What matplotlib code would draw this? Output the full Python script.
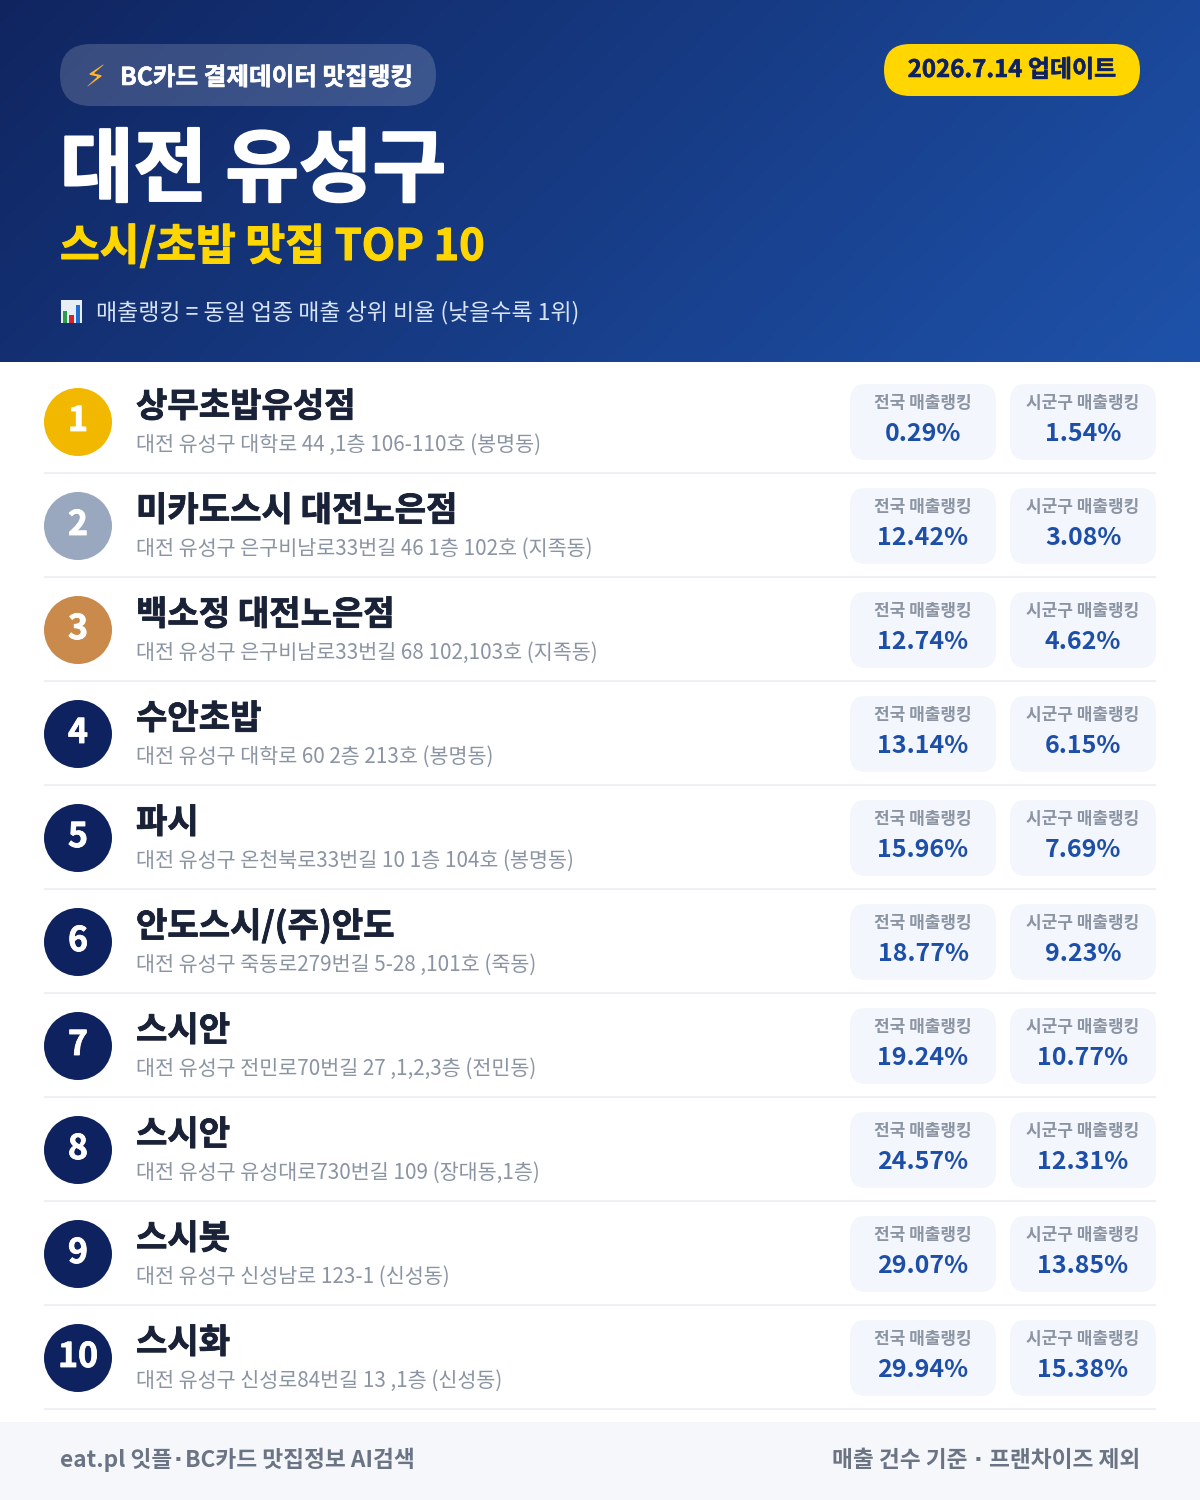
import numpy as np
import matplotlib
matplotlib.use('Agg')
import matplotlib.pyplot as plt
import matplotlib.patheffects as pe
from matplotlib.patches import FancyBboxPatch, Circle, Rectangle

plt.rcParams['font.family'] = ['Noto Sans CJK KR', 'DejaVu Sans']

# data
names = ['상무초밥유성점', '미카도스시 대전노은점', '백소정 대전노은점', '수안초밥', '파시',
         '안도스시/(주)안도', '스시안', '스시안', '스시봇', '스시화']
addrs = ['대전 유성구 대학로 44 ,1층 106-110호 (봉명동)',
         '대전 유성구 은구비남로33번길 46 1층 102호 (지족동)',
         '대전 유성구 은구비남로33번길 68 102,103호 (지족동)',
         '대전 유성구 대학로 60 2층 213호 (봉명동)',
         '대전 유성구 온천북로33번길 10 1층 104호 (봉명동)',
         '대전 유성구 죽동로279번길 5-28 ,101호 (죽동)',
         '대전 유성구 전민로70번길 27 ,1,2,3층 (전민동)',
         '대전 유성구 유성대로730번길 109 (장대동,1층)',
         '대전 유성구 신성남로 123-1 (신성동)',
         '대전 유성구 신성로84번길 13 ,1층 (신성동)']
national = [0.29, 12.42, 12.74, 13.14, 15.96, 18.77, 19.24, 24.57, 29.07, 29.94]
district = [1.54, 3.08, 4.62, 6.15, 7.69, 9.23, 10.77, 12.31, 13.85, 15.38]
medals = ['#f2b800', '#9aa8bf', '#c98a4b']
navy = '#0f2260'


def px(p):
    return p * 72 / 100


def card(ax, x0, y0, x1, y1, r, **kw):
    ax.add_patch(FancyBboxPatch((x0, y0), x1 - x0, y1 - y0,
                                boxstyle=f'round,pad=0,rounding_size={r}', lw=0, **kw))


def heavy(txt, w):
    # thicken the bold face a bit, the reference font is heavier
    txt.set_path_effects([pe.withStroke(linewidth=w, foreground=txt.get_color())])
    return txt


fig = plt.figure(figsize=(12, 15), dpi=100)
ax = fig.add_axes([0, 0, 1, 1])
ax.set_xlim(0, 1200)
ax.set_ylim(1500, 0)
ax.axis('off')

# header gradient
xx, yy = np.meshgrid(np.linspace(0, 1, 300), np.linspace(0, 1, 100))
t = (xx * 1200 + yy * 362) / (1200 + 362)
c0 = np.array([0x10, 0x25, 0x60]) / 255
c1 = np.array([0x1e, 0x52, 0xaa]) / 255
grad = c0[None, None, :] + (c1 - c0)[None, None, :] * t[:, :, None]
ax.imshow(grad, extent=(0, 1200, 362, 0), aspect='auto', zorder=0)
ax.set_xlim(0, 1200)
ax.set_ylim(1500, 0)

card(ax, 60, 44, 436, 106, 31, fc='white', alpha=0.17)
ax.text(95, 86, '⚡', color='#ffb52e', fontsize=px(30), ha='center', va='baseline')
heavy(ax.text(120, 85, 'BC카드 결제데이터 맛집랭킹', color='white', fontsize=px(24.6), weight='bold', va='baseline'), 0.4)

card(ax, 884, 44, 1140, 96, 26, fc='#ffd600')
heavy(ax.text(1012, 77, '2026.7.14 업데이트', color=navy, fontsize=px(24), weight='bold', ha='center', va='baseline'), 0.4)

heavy(ax.text(60, 195, '대전 유성구', color='white', fontsize=px(80), weight='black', va='baseline'), 1.6)
heavy(ax.text(60, 260, '스시/초밥 맛집 TOP 10', color='#ffd600', fontsize=px(43.2), weight='bold', va='baseline'), 0.8)

# chart icon
ax.add_patch(Rectangle((61, 300), 21, 23, fc='#e8eef6', lw=0))
ax.add_patch(Rectangle((63, 311), 4, 12, fc='#2a9d4a', lw=0))
ax.add_patch(Rectangle((69, 315), 5, 8, fc='#d8232a', lw=0))
ax.add_patch(Rectangle((76, 305), 4, 18, fc='#1f6fd0', lw=0))
ax.text(96, 319, '매출랭킹 = 동일 업종 매출 상위 비율 (낮을수록 1위)', color='#d6e2f5', fontsize=px(23), va='baseline')

# rows
for i in range(10):
    dy = 104 * i
    col = medals[i] if i < 3 else navy
    ax.add_patch(Circle((78, 422 + dy), 34, fc=col, lw=0))
    heavy(ax.text(78, 431 + dy, str(i + 1), color='white', fontsize=px(34), weight='bold',
                  ha='center', va='baseline'), 0.6)
    heavy(ax.text(136, 417 + dy, names[i], color='#1a2238', fontsize=px(34.1), weight='bold', va='baseline'), 0.6)
    ax.text(136, 451 + dy, addrs[i], color='#8b94a3', fontsize=px(20.7), va='baseline')
    for x0, lab, v in ((850, '전국 매출랭킹', national[i]), (1010, '시군구 매출랭킹', district[i])):
        card(ax, x0, 384 + dy, x0 + 146, 460 + dy, 16, fc='#f3f6fc')
        ax.text(x0 + 73, 408 + dy, lab, color='#8b94a3', fontsize=px(17), weight='bold', ha='center', va='baseline')
        ax.text(x0 + 73, 441 + dy, f'{v:.2f}%', color='#1e4fa8', fontsize=px(25), weight='bold', ha='center', va='baseline')
    ax.plot([44, 1156], [473 + dy, 473 + dy], color='#eef0f3', lw=px(2), solid_capstyle='butt')

# footer
ax.add_patch(Rectangle((0, 1422), 1200, 78, fc='#f5f7fb', lw=0))
foot = dict(color='#6b7484', fontsize=px(22.7), weight='bold', va='baseline')
ax.text(60, 1467, 'eat.pl 잇플', **foot)
ax.text(178, 1467, '·', ha='center', family='DejaVu Sans', **foot)
ax.text(185, 1467, 'BC카드 맛집정보 AI검색', **foot)
ax.text(968, 1467, '매출 건수 기준', ha='right', **foot)
ax.text(978, 1467, '·', ha='center', family='DejaVu Sans', **foot)
ax.text(1140, 1467, '프랜차이즈 제외', ha='right', **foot)

fig.savefig('out.png', dpi=100)
